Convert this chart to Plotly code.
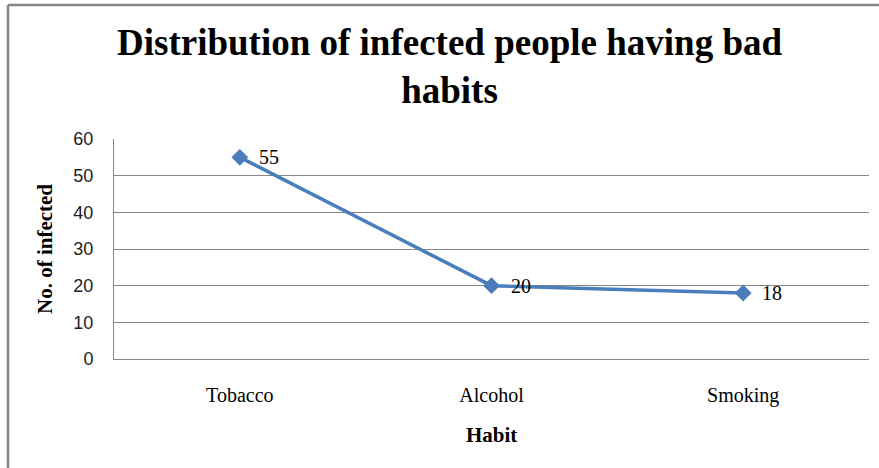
import plotly.graph_objects as go

categories = ["Tobacco", "Alcohol", "Smoking"]
infected = [55, 20, 18]
y_ticks = [0, 10, 20, 30, 40, 50, 60]

W, H = 879, 468
L, R, T, B = 114, 10, 139, 109
pw, ph = W - L - R, H - T - B

def px(x):
    return (x - L) / pw

def py(y):
    return (H - B - y) / ph

serif = "Liberation Serif"
sans = "Liberation Sans"

fig = go.Figure()
fig.add_trace(go.Scatter(
    x=categories, y=infected, mode="lines+markers",
    line=dict(color="#4A7EBB", width=3.5),
    marker=dict(symbol="diamond", size=13, color="#4A7EBB"),
    cliponaxis=False, showlegend=False,
))

label_annotations = [
    dict(text=str(v), x=c, y=v, xref="x", yref="y", xanchor="left", yanchor="middle",
         xshift=17, showarrow=False, font=dict(family=serif, size=20, color="#000000"))
    for c, v in zip(categories, infected)
]

fig.update_layout(
    width=W, height=H,
    margin=dict(l=L, r=R, t=T, b=B),
    paper_bgcolor="white", plot_bgcolor="white",
    xaxis=dict(
        type="category", range=[-0.5, 2.5],
        showgrid=False, showline=True, linecolor="#868686", linewidth=1,
        tickfont=dict(family=serif, size=20, color="#000000"),
        ticks="", ticklabelstandoff=18,
    ),
    yaxis=dict(
        range=[0, 60], tickvals=y_ticks,
        showgrid=True, gridcolor="#868686", gridwidth=1,
        showline=True, linecolor="#868686", linewidth=1,
        tickfont=dict(family=sans, size=18, color="#222222"),
        ticks="", ticklabelstandoff=16, zeroline=False,
    ),
    annotations=label_annotations + [
        dict(text="<b>Distribution of infected people having bad<br>habits</b>",
             xref="paper", yref="paper", x=px(449), y=py(67), xanchor="center", yanchor="middle",
             showarrow=False, align="center",
             font=dict(family=serif, size=37, color="#000000")),
        dict(text="<b>Habit</b>", xref="paper", yref="paper", x=px(491), y=py(435),
             xanchor="center", yanchor="middle", showarrow=False,
             font=dict(family=serif, size=21, color="#000000")),
        dict(text="<b>No. of infected</b>", xref="paper", yref="paper", x=px(45), y=py(249),
             xanchor="center", yanchor="middle", showarrow=False, textangle=-90,
             font=dict(family=serif, size=21, color="#000000")),
    ],
    shapes=[
        dict(type="line", xref="paper", yref="paper", x0=px(8), x1=px(879), y0=py(5), y1=py(5),
             line=dict(color="#868686", width=2.5)),
        dict(type="line", xref="paper", yref="paper", x0=px(8), x1=px(8), y0=py(5), y1=py(468),
             line=dict(color="#868686", width=2.5)),
    ],
)

fig.write_html("out.html")
